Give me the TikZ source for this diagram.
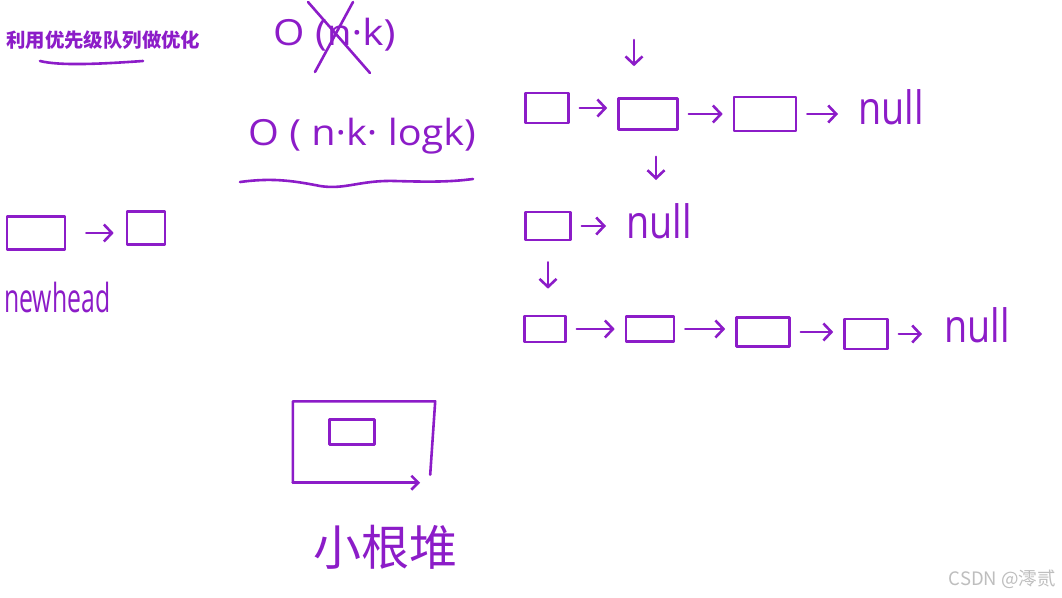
\documentclass[tikz,border=0pt]{standalone}
\usepackage{fontspec}
\usepackage{graphicx}
\setmainfont{Open Sans}
\newfontfamily\cjk{Noto Sans CJK SC}
\usetikzlibrary{arrows.meta,calc}
\definecolor{pen}{RGB}{140,28,200}
\definecolor{wm}{RGB}{190,190,190}
\begin{document}
\begin{tikzpicture}[x=1pt,y=-1pt,
  ink/.style={draw=pen,line width=2.6pt,line cap=round,line join=round},
  cell/.style={ink,inner sep=0pt},
  arr/.style={ink,-{Straight Barb[length=8pt,width=17pt]},shorten <=10pt,shorten >=10pt},
  hw/.style={text=pen,inner sep=0pt,font=\fontsize{36}{36}\selectfont},
  nul/.style={text=pen,inner sep=0pt,anchor=base west,font=\fontsize{46}{46}\selectfont},
]
\useasboundingbox[fill=white] (0,0) rectangle (1062,597);

% title
\node[text=pen,inner sep=0pt,anchor=west,font=\cjk\bfseries\fontsize{19.4}{19.4}\selectfont] (title) at (6,40) {利用优先级队列做优化};
\draw[ink] (40,61) .. controls (60,66) and (100,64) .. (143,61);

% complexities
\node[hw,anchor=base west] (onk) at (273,45) {\scalebox{1.12}[1]{O (n·k)}};
\draw[ink] (308,2) -- (370,73);
\draw[ink] (315,72) -- (353,2);
\node[hw,anchor=base west] (onklog) at (248,145) {\scalebox{1.1}[1]{O ( n·k· logk)}};
\draw[ink] (240,182) .. controls (270,178) and (290,180) .. (320,186)
  .. controls (345,190) and (360,180) .. (395,181)
  .. controls (430,182) and (450,182) .. (473,179);

% left: newhead
\node[cell,minimum width=58pt,minimum height=33pt] (l1) at (36,233) {};
\node[cell,minimum width=38pt,minimum height=33pt] (l2) at (146,228) {};
\draw[arr,shorten <=20pt,shorten >=12pt] (l1) -- (l1 -| l2.west);
\node[text=pen,inner sep=0pt,anchor=base west,font=\fontsize{40}{40}\selectfont] (nh) at (4,312) {\scalebox{0.62}[1]{newhead}};

% row 1
\node[cell,minimum width=43pt,minimum height=30pt] (r1a) at (547,108) {};
\node[cell,minimum width=59pt,minimum height=31pt] (r1b) at (648,114) {};
\node[cell,minimum width=62pt,minimum height=34pt] (r1c) at (765,114) {};
\node[nul] (r1n) at (858,124) {\scalebox{0.82}[1]{null}};
\draw[arr] (r1a) -- (r1a -| r1b.west);
\draw[arr] (r1b) -- (r1b -| r1c.west);
\draw[arr,shorten >=20pt] (r1c) -- (r1c -| r1n.west);
\coordinate (t0) at (634,40);
\draw[arr,shorten <=0pt,shorten >=31pt] (t0) -- (t0 |- r1b.north);
\coordinate (t2) at (656,180);
\draw[arr,shorten <=26pt,shorten >=0pt] (r1b.south -| t2) -- (t2);

% row 2
\node[cell,minimum width=45pt,minimum height=28pt] (r2a) at (548,226) {};
\node[nul] (r2n) at (626,238) {\scalebox{0.82}[1]{null}};
\draw[arr,shorten >=20pt] (r2a) -- (r2a -| r2n.west);

% row 3
\node[cell,minimum width=41pt,minimum height=26pt] (r3a) at (545,329) {};
\node[cell,minimum width=48pt,minimum height=25pt] (r3b) at (650,329) {};
\node[cell,minimum width=53pt,minimum height=29pt] (r3c) at (763,332) {};
\node[cell,minimum width=43pt,minimum height=30pt] (r3d) at (866,334) {};
\node[nul] (r3n) at (944,342) {\scalebox{0.82}[1]{null}};
\draw[arr,shorten <=21pt,shorten >=26pt] (r2a.south) -- (r2a.south |- r3a.north);
\draw[arr] (r3a) -- (r3a -| r3b.west);
\draw[arr] (r3b) -- (r3b -| r3c.west);
\draw[arr] (r3c) -- (r3c -| r3d.west);
\draw[arr,shorten >=22pt] (r3d) -- (r3d -| r3n.west);

% heap
\node[minimum width=142pt,minimum height=81pt,inner sep=0pt] (heap) at (364,442) {};
\draw[ink] (heap.south west) -- (heap.north west) -- (heap.north east) -- ($(heap.south east)+(-5,-8)$);
\draw[ink,-{Straight Barb[length=7pt,width=14pt]}] (heap.south west) -- ($(heap.south east)+(-15,0)$);
\node[cell,minimum width=45pt,minimum height=25pt] (hin) at (352,432) {};
\node[text=pen,inner sep=0pt,font=\cjk\fontsize{48}{48}\selectfont] (heaplabel) at (385,547) {小根堆};

% watermark
\node[text=wm,inner sep=0pt,anchor=east,font=\cjk\fontsize{18.5}{18.5}\selectfont] (wmk) at (1056,579) {CSDN @澪贰};
\end{tikzpicture}
\end{document}
